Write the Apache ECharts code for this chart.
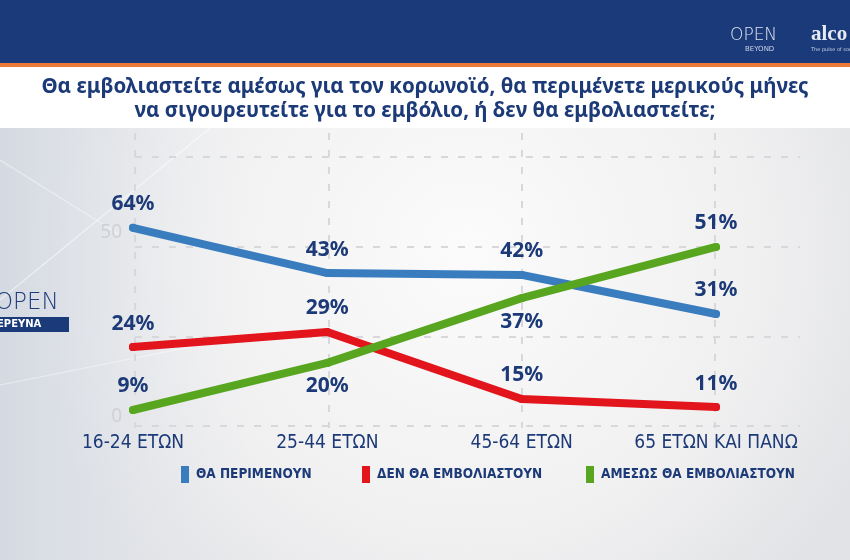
<!DOCTYPE html>
<html><head><meta charset="utf-8">
<script src="https://cdn.jsdelivr.net/npm/echarts@6/dist/echarts.min.js"></script>
<style>html,body{margin:0;padding:0;background:#fff}#c{width:850px;height:560px;}</style>
</head><body><div id="c"></div>
<script>
// ---- data ----
const categories = ['16-24 ΕΤΩΝ', '25-44 ΕΤΩΝ', '45-64 ΕΤΩΝ', '65 ΕΤΩΝ ΚΑΙ ΠΑΝΩ'];
const seriesNames = ['ΘΑ ΠΕΡΙΜΕΝΟΥΝ', 'ΔΕΝ ΘΑ ΕΜΒΟΛΙΑΣΤΟΥΝ', 'ΑΜΕΣΩΣ ΘΑ ΕΜΒΟΛΙΑΣΤΟΥΝ'];
// printed percentages
const pctWait = [64, 43, 42, 31];
const pctNo = [24, 29, 15, 11];
const pctNow = [9, 20, 37, 51];
// heights of the lines as drawn against the 0-50 axis of the graphic
const plotWait = [51.4, 39.1, 38.6, 28.0];
const plotNo = [19.0, 23.1, 4.9, 2.7];
const plotNow = [1.9, 14.7, 32.3, 46.2];
const yMin = 0, yMax = 50, yStep = 50;
const titleText = 'Θα εμβολιαστείτε αμέσως για τον κορωνοϊό, θα περιμένετε μερικούς μήνες\nνα σιγουρευτείτε για το εμβόλιο, ή δεν θα εμβολιαστείτε;';

// ---- styling ----
const NAVY = '#1c3a78';
const colors = ['#3a7dbf', '#e2141c', '#58a61f'];
const labelPos = [
  ['top', 'top', 'top', 'top'],
  ['top', 'top', 'top', 'top'],
  ['top', 'bottom', 'bottom', 'top']
];
const narrow = "'Liberation Sans Narrow', 'DejaVu Sans Condensed', Roboto, sans-serif";
const chart = echarts.init(document.getElementById('c'));

function mkSeries(idx, plot, pct) {
  return {
    name: seriesNames[idx], type: 'line', xAxisIndex: 0, yAxisIndex: 0,
    data: plot.map((v, i) => ({ value: v, label: { position: labelPos[idx][i] } })),
    symbol: 'circle', symbolSize: 8, clip: false, z: 5,
    itemStyle: { color: colors[idx] },
    lineStyle: { width: 8, color: colors[idx], cap: 'round', join: 'round' },
    label: {
      show: true, distance: 9,
      formatter: p => pct[p.dataIndex] + '%',
      color: NAVY, fontSize: 21, fontWeight: 'bold', fontFamily: "'Noto Sans', sans-serif"
    },
    emphasis: { disabled: true }
  };
}

const dash = { type: [7, 10], color: '#d6d8db', width: 2 };

const option = {
  animation: false,
  backgroundColor: {
    type: 'radial', x: 0.55, y: 0.45, r: 0.8,
    colorStops: [{ offset: 0, color: '#fbfbfb' }, { offset: 0.65, color: '#f0f0f1' }, { offset: 1, color: '#e2e3e6' }]
  },
  title: {
    text: titleText, left: 'center', top: 70,
    textStyle: { color: NAVY, fontSize: 20.5, fontWeight: 'bold', lineHeight: 24, fontFamily: "'Noto Sans', sans-serif" }
  },
  graphic: [
    { type: 'rect', shape: { x: 0, y: 0, width: 850, height: 63 }, style: { fill: '#1b3a7a' }, z: -10 },
    { type: 'rect', shape: { x: 0, y: 63, width: 850, height: 4 }, style: { fill: '#ea7a38' }, z: -10 },
    { type: 'rect', shape: { x: 0, y: 67, width: 850, height: 61 }, style: { fill: '#ffffff' }, z: -10 },
    { type: 'rect', shape: { x: 0, y: 128, width: 260, height: 432 },
      style: { fill: { type: 'linear', x: 0, y: 0, x2: 1, y2: 0, colorStops: [{ offset: 0, color: 'rgba(208,215,225,0.75)' }, { offset: 1, color: 'rgba(235,237,240,0)' }] } }, z: -10 },
    { type: 'line', shape: { x1: 0, y1: 300, x2: 210, y2: 128 }, style: { stroke: 'rgba(255,255,255,0.55)', lineWidth: 1.2 }, z: -9 },
    { type: 'line', shape: { x1: 0, y1: 160, x2: 120, y2: 235 }, style: { stroke: 'rgba(255,255,255,0.45)', lineWidth: 1.2 }, z: -9 },
    { type: 'line', shape: { x1: 0, y1: 385, x2: 200, y2: 345 }, style: { stroke: 'rgba(255,255,255,0.45)', lineWidth: 1.2 }, z: -9 },
    // header logos
    { type: 'text', left: 730, top: 27, style: { text: 'OPEN', fill: '#dfe6f2', font: "300 17px 'DejaVu Sans'", letterSpacing: 5 } },
    { type: 'text', left: 745, top: 46, style: { text: 'BEYOND', fill: '#c9d3e6', font: "7px 'DejaVu Sans'", letterSpacing: 3 } },
    { type: 'text', left: 811, top: 24, style: { text: 'alco', fill: '#e4e9f2', font: "bold 21px 'Liberation Serif'" } },
    { type: 'text', left: 811, top: 47, style: { text: 'The pulse of society', fill: '#c9d3e6', font: "5px 'DejaVu Sans'" } },
    // left logo
    { type: 'text', left: -5, top: 292, style: { text: 'OPEN', fill: '#1e3c7c', font: "300 23px 'DejaVu Sans'", letterSpacing: 4 } },
    { type: 'rect', shape: { x: 0, y: 317, width: 69, height: 15 }, style: { fill: '#1b3a7a' } },
    { type: 'text', left: -3, top: 319, style: { text: 'ΕΡΕΥΝΑ', fill: '#ffffff', font: "bold 10px 'DejaVu Sans'", letterSpacing: 4 } }
  ],
  legend: seriesNames.map((n, i) => ({
    data: [n], left: [176, 357, 581][i], top: 461, icon: 'rect', itemWidth: 8, itemHeight: 17, itemGap: 6,
    selectedMode: false,
    textStyle: { color: NAVY, fontSize: 13.5, fontWeight: 'bold', fontFamily: narrow, padding: [0, 0, 0, 2] }
  })),
  grid: [
    { left: 133, right: 134, top: 233, bottom: 143 },
    { left: 135, right: 50, top: 157, bottom: 134 },
    { left: 135, right: 135, top: 133, bottom: 132 }
  ],
  xAxis: [
    { gridIndex: 0, type: 'category', data: categories, boundaryGap: false,
      axisLine: { show: false }, axisTick: { show: false }, splitLine: { show: false },
      axisLabel: { interval: 0, color: NAVY, fontSize: 19, fontFamily: narrow, margin: 17 } },
    { gridIndex: 1, type: 'value', show: false },
    { gridIndex: 2, type: 'category', data: categories, boundaryGap: false,
      axisLine: { show: false }, axisTick: { show: false }, axisLabel: { show: false },
      splitLine: { show: true, interval: 0, lineStyle: dash } }
  ],
  yAxis: [
    { gridIndex: 0, type: 'value', min: yMin, max: yMax, interval: yStep,
      axisLine: { show: false }, axisTick: { show: false }, splitLine: { show: false },
      axisLabel: { color: '#cfd1d5', fontSize: 19, fontFamily: "'Noto Sans', sans-serif", margin: 11 } },
    { gridIndex: 1, type: 'value', min: 0, max: 3, interval: 1,
      axisLine: { show: false }, axisTick: { show: false }, axisLabel: { show: false },
      splitLine: { show: true, lineStyle: dash } },
    { gridIndex: 2, type: 'value', show: false }
  ],
  series: [
    mkSeries(0, plotWait, pctWait),
    mkSeries(1, plotNo, pctNo),
    mkSeries(2, plotNow, pctNow)
  ]
};
chart.setOption(option);
</script></body></html>
